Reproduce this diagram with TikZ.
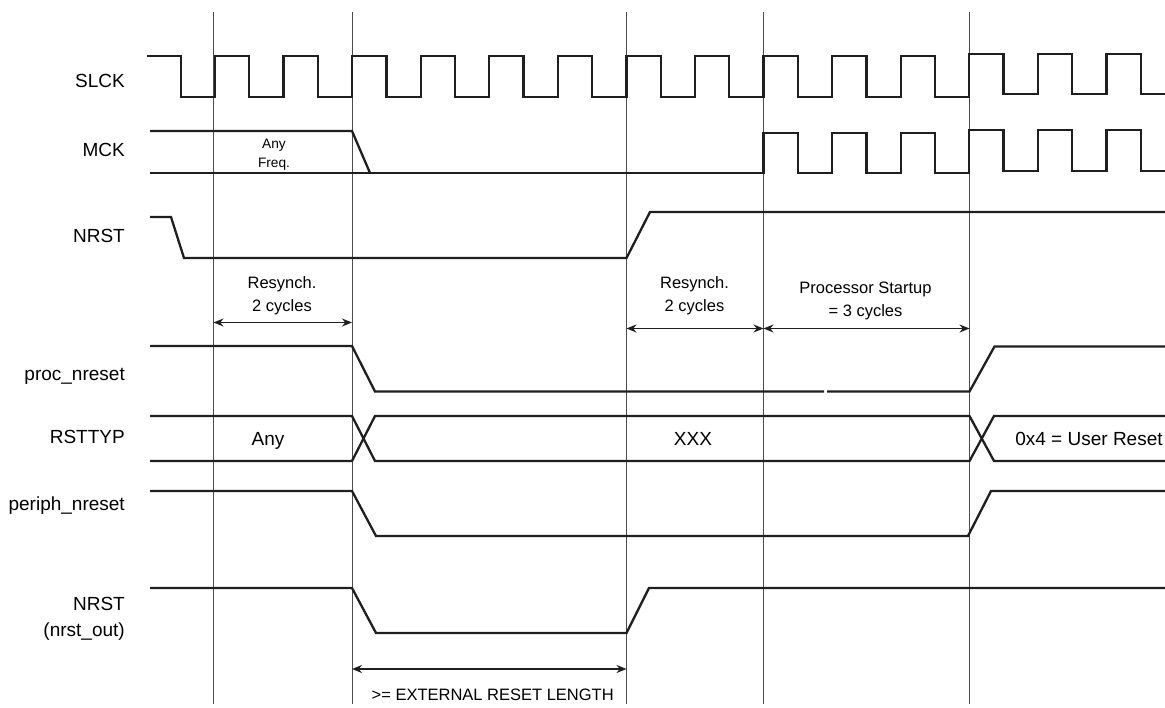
\documentclass[tikz,border=0pt]{standalone}
\usepackage{fontspec}
\setmainfont{Liberation Sans}
\usepackage{tikz}
\usetikzlibrary{arrows.meta}
\tikzstyle{signal} = [line width=2.3pt, color=black!88]
\tikzstyle{marker} = [line width=0.9pt, color=black!70]
\tikzstyle{spanarrow} = [line width=1.4pt, color=black!88, {Stealth[length=10pt,width=8pt]}-{Stealth[length=10pt,width=8pt]}]
\tikzstyle{signame} = [anchor=base east, inner sep=0pt, font=\fontsize{19}{26}\selectfont, align=right]
\tikzstyle{spantext} = [anchor=base, inner sep=0pt, font=\fontsize{16.5}{23}\selectfont, align=center]
\tikzstyle{valtext} = [anchor=base, inner sep=0pt, font=\fontsize{19}{23}\selectfont]

\begin{document}
\begin{tikzpicture}[x=1pt, y=-1pt]
\useasboundingbox (0,0) rectangle (1165,708);

% Time markers
\foreach \t/\m in {213.5/ma, 352/mb, 626.5/mc, 763.5/md, 969.5/me} {
  \coordinate (\m top) at (\t,12);
  \coordinate (\m bot) at (\t,704);
  \draw[marker] (\m top) -- (\m bot);
}

% Signal names
\node (slck) [signame] at (125,88) {SLCK};
\node (mck) [signame] at (125,156.5) {MCK};
\node (nrst) [signame] at (125,242.5) {NRST};
\node (procrst) [signame] at (125,381) {proc\_nreset};
\node (rsttyp) [signame] at (125,444) {RSTTYP};
\node (periphrst) [signame] at (125,510.5) {periph\_nreset};
\node (nrstout) [signame] at (125,636.7) {NRST\\(nrst\_out)};

% SLCK
\draw[signal] (147,56)
  foreach \k in {0,...,10} { -- ({180.7+68.57*\k},56) -- ({180.7+68.57*\k},97)
    -- ({215+68.57*\k},97) -- ({215+68.57*\k},56) }
  -- (935,56) -- (935,97) -- (969.3,97) -- (969.3,54)
  foreach \k in {12,13} { -- ({180.7+68.57*\k},54) -- ({180.7+68.57*\k},94)
    -- ({215+68.57*\k},94) -- ({215+68.57*\k},54) }
  -- (1140.7,54) -- (1140.7,94) -- (1165,94);

% MCK
\draw[signal] (150,131) -- (352,131) -- (370,173);
\draw[signal] (150,173) -- (763.6,173) -- (763.6,133)
  foreach \k in {9,10} { -- ({180.7+68.57*\k},133) -- ({180.7+68.57*\k},173)
    -- ({215+68.57*\k},173) -- ({215+68.57*\k},133) }
  -- (935,133) -- (935,173) -- (969.3,173) -- (969.3,130)
  foreach \k in {12,13} { -- ({180.7+68.57*\k},130) -- ({180.7+68.57*\k},171)
    -- ({215+68.57*\k},171) -- ({215+68.57*\k},130) }
  -- (1140.7,130) -- (1140.7,171) -- (1165,171);
\node (anyfreq) [anchor=base, inner sep=0pt, font=\fontsize{13.7}{19}\selectfont, align=center] at (274,167.3) {Any\\Freq.};

% NRST
\draw[signal] (150,217) -- (171,217) -- (184,258) -- (626.5,258) -- (650,212) -- (1165,212);

% Resynch / startup spans
\coordinate (rsa) at (213.5,322.5);
\coordinate (rsb) at (352,322.5);
\coordinate (rsc) at (626.5,328.5);
\coordinate (rsd) at (763.5,328.5);
\coordinate (rse) at (969.5,328.5);
\draw[spanarrow] (rsa) -- (rsb);
\draw[spanarrow] (rsc) -- (rsd);
\draw[spanarrow] (rsd) -- (rse);
\node (resync1) [spantext] at (282,311.7) {Resynch.\\2 cycles};
\node (resync2) [spantext] at (694.5,311.7) {Resynch.\\2 cycles};
\node (startup) [spantext] at (865.5,316.7) {Processor Startup\\= 3 cycles};

% proc_nreset
\draw[signal] (150,346) -- (352,346) -- (375,391.5) -- (824,391.5);
\draw[signal] (827,391.5) -- (969.5,391.5) -- (994.5,346.5) -- (1165,346.5);

% RSTTYP
\draw[signal] (150,416) -- (352,416) -- (375,461) -- (969.5,461) -- (994,416) -- (1165,416);
\draw[signal] (150,461) -- (352,461) -- (375,416) -- (969.5,416) -- (994,461) -- (1165,461);
\node (anyval) [valtext] at (268,446) {Any};
\node (xxxval) [valtext] at (693,446) {XXX};
\node (userval) [valtext] at (1089,446) {0x4 = User Reset};

% periph_nreset
\draw[signal] (150,491) -- (352,491) -- (376,536) -- (968,536) -- (991,491) -- (1165,491);

% NRST (nrst_out)
\draw[signal] (150,588) -- (352,588) -- (376,633) -- (626.5,633) -- (649,588) -- (1165,588);

% External reset length
\coordinate (exta) at (352,669);
\coordinate (extb) at (626.5,669);
\draw[spanarrow] (exta) -- (extb);
\node (extlen) [spantext] at (492.7,700) {>= EXTERNAL RESET LENGTH};
\end{tikzpicture}
\end{document}
